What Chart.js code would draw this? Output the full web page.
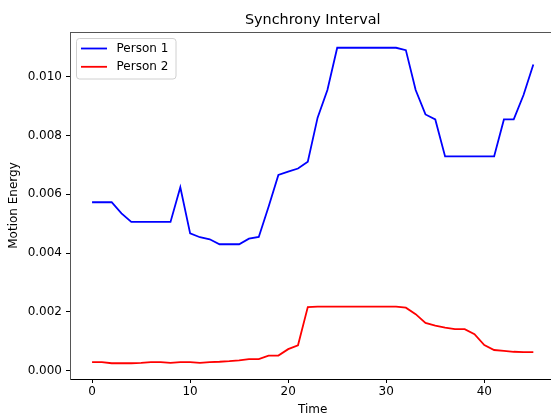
<!DOCTYPE html>
<html>
<head>
<meta charset="utf-8">
<title>Synchrony Interval</title>
<script src="https://cdn.jsdelivr.net/npm/chart.js@4/dist/chart.umd.min.js"></script>
<style>
  html, body { margin: 0; padding: 0; background: #fff; overflow: hidden; }
  #wrap { width: 551px; height: 416px; overflow: hidden; }
  canvas { display: block; }
</style>
</head>
<body>
<div id="wrap"><canvas id="chart" width="560" height="416"></canvas></div>
<script>
// Time steps of the interval
const time = [0, 1, 2, 3, 4, 5, 6, 7, 8, 9, 10, 11, 12, 13, 14, 15, 16, 17, 18, 19, 20, 21, 22,
              23, 24, 25, 26, 27, 28, 29, 30, 31, 32, 33, 34, 35, 36, 37, 38, 39, 40, 41, 42, 43, 44, 45];

// Motion energy per person
const person1 = [0.00573, 0.00573, 0.00573, 0.00535, 0.00506, 0.00506, 0.00506, 0.00506, 0.00506, 0.00624,
                 0.00467, 0.00454, 0.00447, 0.00430, 0.00430, 0.00430, 0.00449, 0.00455, 0.00558, 0.00666,
                 0.00677, 0.00688, 0.00711, 0.00861, 0.00955, 0.01099, 0.01099, 0.01099, 0.01099, 0.01099,
                 0.01099, 0.01099, 0.01091, 0.00955, 0.00872, 0.00855, 0.00729, 0.00729, 0.00729, 0.00729,
                 0.00729, 0.00729, 0.00855, 0.00855, 0.00938, 0.01042];
const person2 = [0.00029, 0.00029, 0.00025, 0.00025, 0.00025, 0.00026, 0.00029, 0.00029, 0.00026, 0.00029,
                 0.00029, 0.00026, 0.00029, 0.00030, 0.00032, 0.00035, 0.00039, 0.00039, 0.00051, 0.00051,
                 0.00073, 0.00086, 0.00216, 0.00218, 0.00218, 0.00218, 0.00218, 0.00218, 0.00218, 0.00218,
                 0.00218, 0.00218, 0.00214, 0.00192, 0.00162, 0.00153, 0.00146, 0.00141, 0.00141, 0.00124,
                 0.00087, 0.00070, 0.00067, 0.00064, 0.00063, 0.00063];

const seriesNames = ['Person 1', 'Person 2'];
const seriesColors = ['#0000ff', '#ff0000'];

// Tick labels
const xTicks = [0, 10, 20, 30, 40];
const yTicks = [0.000, 0.002, 0.004, 0.006, 0.008, 0.010];

const titleText = 'Synchrony Interval';
const xTitle = 'Time';
const yTitle = 'Motion Energy';

// Axis limits: data range plus a 5% margin on each side
function padded(values) {
  const lo = Math.min(...values), hi = Math.max(...values);
  const m = (hi - lo) * 0.05;
  return [lo - m, hi + m];
}
const [xMin, xMax] = padded(time);
const [yMin, yMax] = padded(person1.concat(person2));

const FONT = 'DejaVu Sans';
Chart.defaults.font.family = FONT;
Chart.defaults.color = '#000';

const toPoints = vals => vals.map((v, i) => ({ x: time[i], y: v }));

// Title, top frame line and boxed legend
const decorations = {
  id: 'decorations',
  afterDraw(chart) {
    const { ctx, chartArea, scales } = chart;
    ctx.save();

    // top frame line
    ctx.strokeStyle = '#555';
    ctx.lineWidth = 1;
    ctx.beginPath();
    ctx.moveTo(chartArea.left, Math.round(chartArea.top) + 0.5);
    ctx.lineTo(chartArea.right, Math.round(chartArea.top) + 0.5);
    ctx.stroke();

    // title centred over the axes
    const cx = scales.x.getPixelForValue((xMin + xMax) / 2);
    ctx.fillStyle = '#000';
    ctx.font = '14.4px "' + FONT + '"';
    ctx.textAlign = 'center';
    ctx.textBaseline = 'alphabetic';
    ctx.fillText(titleText, cx, 24);

    // legend box
    const bx = 76.5, by = 38.5, bw = 99.5, bh = 40.5, r = 3;
    ctx.beginPath();
    ctx.moveTo(bx + r, by);
    ctx.lineTo(bx + bw - r, by);
    ctx.quadraticCurveTo(bx + bw, by, bx + bw, by + r);
    ctx.lineTo(bx + bw, by + bh - r);
    ctx.quadraticCurveTo(bx + bw, by + bh, bx + bw - r, by + bh);
    ctx.lineTo(bx + r, by + bh);
    ctx.quadraticCurveTo(bx, by + bh, bx, by + bh - r);
    ctx.lineTo(bx, by + r);
    ctx.quadraticCurveTo(bx, by, bx + r, by);
    ctx.closePath();
    ctx.fillStyle = 'rgba(255,255,255,0.8)';
    ctx.fill();
    ctx.strokeStyle = '#d0d0d0';
    ctx.lineWidth = 1;
    ctx.stroke();

    ctx.font = '12px "' + FONT + '"';
    ctx.textAlign = 'left';
    ctx.textBaseline = 'middle';
    chart.data.datasets.forEach((ds, i) => {
      const ly = 48.5 + i * 18.3;
      ctx.strokeStyle = ds.borderColor;
      ctx.lineWidth = 1.8;
      ctx.beginPath();
      ctx.moveTo(81, ly);
      ctx.lineTo(107, ly);
      ctx.stroke();
      ctx.fillStyle = '#000';
      ctx.fillText(ds.label, 116.5, ly + 0.5);
    });

    ctx.restore();
  }
};

new Chart(document.getElementById('chart'), {
  type: 'line',
  data: {
    datasets: [
      { label: seriesNames[0], data: toPoints(person1), borderColor: seriesColors[0],
        borderWidth: 1.8, pointRadius: 0, tension: 0, fill: false, order: 2 },
      { label: seriesNames[1], data: toPoints(person2), borderColor: seriesColors[1],
        borderWidth: 1.8, pointRadius: 0, tension: 0, fill: false, order: 1 }
    ]
  },
  options: {
    responsive: false,
    animation: false,
    devicePixelRatio: 1,
    layout: { padding: { top: 32, right: 4.6, left: 0, bottom: 0 } },
    plugins: {
      legend: { display: false },
      title: { display: false },
      tooltip: { enabled: false }
    },
    scales: {
      x: {
        type: 'linear',
        min: xMin,
        max: xMax,
        afterFit(scale) { scale.height = 37; },
        afterBuildTicks(scale) { scale.ticks = xTicks.map(v => ({ value: v })); },
        grid: { drawOnChartArea: false, drawTicks: true, tickLength: 4, tickColor: '#000', tickWidth: 1 },
        border: { display: true, color: '#000', width: 1 },
        ticks: { padding: 1.5, font: { size: 12 }, color: '#000', maxRotation: 0,
                 callback: v => String(v) },
        title: { display: true, text: xTitle, font: { size: 12, lineHeight: 1 }, color: '#000',
                 padding: { top: 0, bottom: 0 } }
      },
      y: {
        type: 'linear',
        min: yMin,
        max: yMax,
        afterFit(scale) { scale.width = 70; },
        afterBuildTicks(scale) { scale.ticks = yTicks.map(v => ({ value: v })); },
        grid: { drawOnChartArea: false, drawTicks: true, tickLength: 4, tickColor: '#000', tickWidth: 1 },
        border: { display: true, color: '#555', width: 1 },
        ticks: { padding: 4, font: { size: 12 }, color: '#000',
                 callback: v => Number(v).toFixed(3) },
        title: { display: true, text: yTitle, font: { size: 12 }, color: '#000',
                 padding: { top: 7, bottom: 0 } }
      }
    }
  },
  plugins: [decorations]
});
</script>
</body>
</html>
